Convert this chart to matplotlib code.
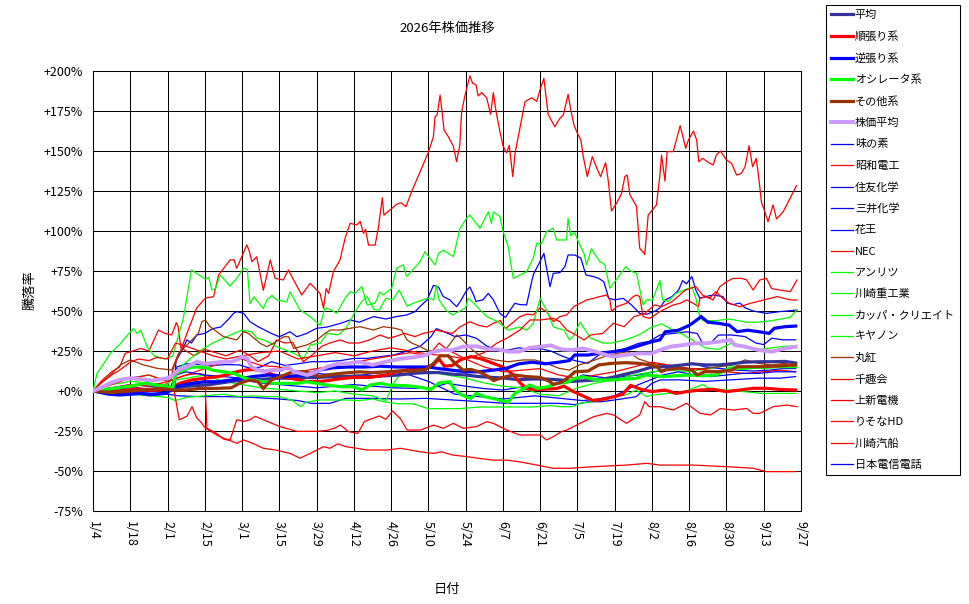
import matplotlib
matplotlib.use('Agg')
import matplotlib.pyplot as plt

plt.rcParams['font.family'] = ['Noto Sans CJK JP', 'DejaVu Sans']

# x axis: days since 1/4
tick_days = list(range(0, 267, 14))
tick_labels = ['1/4', '1/18', '2/1', '2/15', '3/1', '3/15', '3/29', '4/12', '4/26', '5/10',
               '5/24', '6/7', '6/21', '7/5', '7/19', '8/2', '8/16', '8/30', '9/13', '9/27']
y_ticks = [-75, -50, -25, 0, 25, 50, 75, 100, 125, 150, 175, 200]

# ---- group lines (thick) ----
avg_days = [0, 5, 10, 15, 20, 25, 28, 32, 36, 40, 44, 48, 52, 56, 60, 65, 70, 75, 80, 85,
            90, 95, 100, 105, 110, 115, 120, 125, 130, 135, 140, 145, 150, 155, 160, 165, 170, 175, 180, 185,
            190, 195, 200, 205, 210, 215, 220, 225, 230, 235, 240, 245, 250, 255, 260, 264]
avg_vals = [0, -0.5, 0, 0.5, 0.5, 0.5, 1, 2, 3, 3.5, 4, 5, 6, 6.7, 7, 7.5, 8, 8, 8.5, 8.5,
            9, 9, 9.5, 9, 9.5, 10, 11, 11.5, 11.5, 10.5, 10, 9, 8.5, 8, 7, 7.5, 7.5, 7, 6, 6.5,
            7, 8.5, 10.5, 12.5, 15, 15.2, 16, 17, 16.3, 16.3, 17, 18, 18.3, 18.3, 18.5, 17.5]

trend_days = [0, 5, 10, 15, 20, 25, 28, 30, 33, 37, 42, 47, 50, 54, 57, 60, 64, 68, 74, 80,
              86, 92, 98, 104, 110, 114, 119, 124, 128, 130, 132, 135, 138, 142, 146, 150, 154, 158, 160.5, 163,
              166, 170, 174, 177, 180, 184, 188, 192, 196, 199, 202, 206, 210, 215, 219, 223, 228, 233, 238, 243,
              248, 253, 258, 264]
trend_vals = [0, -1, 0, 1, 0.6, 0.6, 2, 2.7, 5, 6.9, 8, 9, 10, 12, 13, 13.5, 12.5, 10, 8, 6,
              6, 7.5, 8.5, 8.5, 10, 12, 13.5, 14, 16.5, 20, 15.5, 16, 19.5, 21.5, 20, 17.5, 15, 10, 5, 1.5,
              0.8, 1.2, 1.5, 3, 0, -3, -6, -5, -3.5, -2, 3.5, 1, -0.4, 0.6, -1.5, -0.4, 0.6, 1, -0.4, 0.6,
              1.7, 1.7, 1, 0.6]

contra_days = [0, 3, 6, 10, 14, 18, 22, 26, 28, 31, 34, 38, 42, 47, 52, 56, 60, 66, 72, 80,
               85, 90, 96, 102, 108, 114, 120, 126, 130, 135, 140, 145, 150, 155, 160, 165, 170, 175, 179, 181,
               186, 190, 195, 200, 206, 210, 213, 215, 220, 224, 226, 228.5, 231, 235, 239, 242, 246, 250, 254, 256,
               260, 264]
contra_vals = [0, -1, -2, -2.5, -2, -1.5, -2, -1.5, -1, 2.7, 3.7, 5, 5.8, 5.8, 6.9, 7.9, 9, 10, 9, 10,
               13, 14.5, 15, 15, 15.5, 15, 15, 15, 14, 13, 12, 12, 13, 14, 17, 18, 17, 18, 19, 22.5,
               22.5, 23.5, 24.5, 25.6, 28.8, 30.8, 32, 37, 38, 41, 43.3, 46.5, 43, 42.3, 41.2, 37.1, 38, 37.1, 36, 39.2,
               40.2, 40.6]

osc_days = [0, 7, 14, 20, 22, 27, 30, 31, 34, 37, 42, 45, 49, 53, 57, 60, 64, 68, 72, 77,
            80, 84, 88, 93, 98, 101, 104, 108, 111, 115, 119, 124, 127, 130, 134, 136, 138.5, 142, 144, 147,
            151, 156, 158.5, 161, 164, 167, 171, 174, 178, 181, 184, 189, 195, 200, 204, 208, 214, 219, 224, 229,
            234, 239, 245, 250, 255, 260, 264]
osc_vals = [0, 1.5, 3, 5, 4, 3, 2, 11, 13, 15, 14.8, 13, 12, 11, 8, 6.9, 5.8, 4.8, 4.8, 4.8,
            5.8, 4.8, 3.7, 2.7, 2.7, 0.6, 3.7, 4.8, 3.7, 3.5, 3.2, 2, 1, 5, 5.8, 0.6, -2.5, -4.6, -1.5, -3.5,
            -5, -7, -1.5, 0.6, 3.7, 1.7, 2.7, 4.8, 5.3, 7.9, 8.9, 6.9, 6.9, 7.5, 7.9, 10, 9, 9.5, 10, 9.5,
            10, 14.2, 14.2, 15, 15.2, 15.2, 15.2]

other_days = [0, 7, 14, 20, 26, 30, 35, 40, 46, 52, 55, 59, 62, 64, 67, 72, 75, 80, 85, 88,
              93, 100, 105, 110, 115, 120, 125, 128, 130.5, 133.5, 136, 139, 142, 145, 148, 150.5, 154, 158, 163, 168,
              171.5, 173, 176, 179, 181, 186, 190, 195, 200, 205, 209.5, 212, 213.5, 215, 220, 225, 227, 230, 235, 240,
              242, 247, 252, 257, 264]
other_vals = [0, -1, 0, 1, 1.5, 0.6, 0.6, 1.6, 1.6, 2, 4.8, 6.9, 5.8, 1.6, 6.9, 10, 12, 12, 9, 10,
              11, 12, 11.5, 12, 12.5, 12.5, 13.5, 17.3, 22, 22, 17.3, 13.1, 13.5, 12, 9.5, 6.5, 8.5, 10, 9, 8.5,
              6, 4, 5.5, 9, 12, 12.5, 16.3, 17.3, 17.7, 17.3, 16.3, 15.2, 12.1, 13.1, 14.2, 13.1, 10, 12.1, 12.1, 13.1,
              15.2, 15.2, 15.2, 15.6, 16.3]

index_days = [0, 3, 6.5, 10, 14, 18, 22, 28, 30, 32, 36.5, 39, 42, 45, 49, 52, 54, 56, 58, 59.5,
              62, 64, 67, 71, 73, 75.5, 78, 80.5, 84, 88, 92, 96, 100, 105, 110, 115, 120, 124, 128, 131,
              135, 139, 144, 149, 152, 156, 160, 164, 168, 172, 176, 180, 184, 189, 192, 195, 200, 205, 210, 213,
              217, 222, 226, 230, 235, 239.5, 241, 245, 250, 255, 260, 264]
index_vals = [0, 2, 5, 7, 8, 7.5, 6.5, 8, 10, 13, 16, 18.3, 17, 17.5, 18.3, 18.3, 19.4, 21.4, 20.4, 15,
              13.1, 12, 13.1, 13.1, 15.2, 12.1, 11, 10, 12, 15.2, 17, 17.3, 18.3, 16.3, 18.3, 20, 21, 22, 24.5, 25.5,
              25.6, 27.7, 28, 26, 26, 24.6, 24.6, 27, 27.7, 28.5, 26, 25.6, 26.6, 24.5, 23, 21.5, 22.5, 23.5, 23.5, 25.6,
              27.7, 28.8, 29.8, 29.8, 30.8, 31.9, 28.8, 27.7, 25.6, 24.6, 26.6, 27.7]

# ---- single stocks (thin) ----
ajinomoto_days = [0, 7, 14, 21, 28, 30.5, 31.2, 33, 35.3, 37, 39, 42, 45, 48, 51, 52.8, 54, 56.6, 59, 62,
                  67, 70, 74, 76.6, 80.3, 84, 88, 93, 96.6, 100, 105.4, 110, 114, 117.8, 121, 123, 125.5, 127.9, 129.8, 131.6,
                  134, 136.6, 138, 140.4, 141.6, 143, 143.9, 146.5, 148.5, 150.4, 152.9, 155, 156.5, 158.5, 160.4, 162.9, 164.8, 165.5, 167.9, 169.4,
                  170.5, 171.7, 172.9, 175.4, 177.3, 178.5, 181, 183.3, 185.2, 188, 190, 191.9, 193.8, 196, 199.2, 202.3, 205.4, 208, 211.3, 213,
                  215, 217.5, 220, 221.5, 223, 225, 226.5, 228, 230, 233, 236.6, 238.3, 240.6, 243, 245, 248, 253, 258, 264.5]
ajinomoto_vals = [0, -1, 1, 0, 1, 2, 19, 24, 32, 30, 35, 36, 39, 40, 45, 48.5, 49.6, 48.5, 43.3, 40.2,
                  36, 33.9, 37, 33.9, 36, 39.2, 40, 42.3, 44.4, 43, 46.5, 45, 46.5, 47.5, 49.6, 53, 56.9, 66, 65, 59,
                  57, 52.7, 56, 63, 65, 60, 56, 57, 61, 57, 48.5, 46, 50, 54.8, 54, 53.8, 68.3, 73, 80.8, 86,
                  76, 65.2, 73.5, 74, 77.7, 85, 85, 83, 72.5, 71.5, 70.4, 68.3, 57.9, 57, 57.9, 53.8, 48.5, 48, 50, 52,
                  56.9, 59, 63, 69, 67, 71.5, 63, 58, 59, 60, 59, 55, 54, 55, 52, 50, 48.5, 49.6, 50.6]

showa_days = [0, 7, 14, 21, 26, 29, 30.3, 32.8, 35.3, 39, 42.2, 45.3, 47.2, 51.5, 53, 54, 57.8, 58.8, 59.7, 61.5,
              64, 66.6, 68.4, 71.5, 73.4, 78.4, 81.6, 85.3, 86.6, 87.6, 88.5, 90.3, 92.8, 94.7, 96.6, 99.1, 100.4, 101.6, 102.4, 103.5,
              106, 107.2, 108.7, 109.3, 114.1, 115.7, 117.6, 119.7, 122.9, 126, 127.9, 128.5, 129.3, 130.4, 131, 131.9, 133.5, 135.4, 136.6, 137.8,
              138.5, 139.8, 141.6, 142.6, 143.9, 144.7, 146, 147.9, 149.4, 150.4, 151.4, 152.9, 154.1, 155.4, 156.4, 157.7, 158.6, 160.4, 162.3, 164.8,
              166.7, 167.9, 169.4, 171, 173.5, 175.4, 176.7, 178.5, 179.4, 180.7, 182, 183.3, 184.2, 185.7, 187.6, 189.3, 190.7, 192.6, 193.6, 194.8,
              196.7, 198.6, 199.8, 200.7, 201.7, 204.2, 205.4, 207.3, 208.6, 211.7, 213, 213.6, 214.9, 215.7, 218, 219, 220.6, 222.7, 223.7, 225.6,
              226.8, 227.6, 229.1, 231, 233, 234.2, 235.7, 238, 239.9, 241.8, 243.6, 245, 246.5, 247.8, 249.2, 250.3, 251.1, 252.4, 253.6, 255.5,
              256.8, 259.3, 264.3]
showa_vals = [0, 2, 3, 1, 3, 6, 15, 24.6, 36, 52, 58, 59, 72.5, 81.9, 82, 76.7, 91.3, 87, 80.8, 83.9,
              63, 81.9, 70.4, 69.4, 75.6, 60, 67.3, 61, 51.7, 64, 61, 74.6, 81.9, 95.4, 104.8, 103.8, 106, 98.5, 101, 91.2,
              91.2, 101.8, 120.8, 109.9, 116.7, 117.7, 115.2, 124.6, 137, 149.2, 159, 171.5, 172.5, 185, 176.7, 163, 159, 152.9, 143.3, 153.6,
              174.6, 185, 197, 192.4, 191.4, 184.4, 186.5, 183.3, 172.9, 186.5, 175, 162, 152.9, 148.8, 153.6, 134, 148.8, 164.2, 180.8, 183.3,
              181, 188, 195.4, 172.9, 165.2, 170.4, 172.5, 185.4, 176.7, 166.3, 161, 156.9, 146.5, 134, 146.5, 139.2, 134, 142.7, 131.2, 112.5,
              117.3, 123.5, 134, 135, 122.7, 115.4, 89.2, 85.4, 110, 116.3, 135, 147.5, 131.2, 149.6, 149.6, 155.8, 165.8, 151.7, 156.9, 162.5,
              156.9, 143.3, 145.4, 143, 141.3, 147.5, 150, 144.4, 142.3, 135, 136, 140.2, 153.3, 140.2, 145.4, 130.8, 118.3, 112, 105.8, 116.3,
              107.5, 112, 128.3]

sumitomo_days = [0, 7, 14, 21, 28, 30.5, 31.5, 35, 40, 45, 50, 55, 59, 63, 67, 72, 77, 82, 87, 93,
                 98, 103, 108, 113, 118, 123, 127, 129, 132, 136, 140, 144, 148, 152, 156, 160, 164, 168, 172, 176,
                 181, 186, 190, 195, 200, 205, 209, 213, 218, 223, 227, 229, 232, 235, 240, 245, 249, 252, 255, 259, 264]
sumitomo_vals = [0, 1, 2, 1, 0.5, 1, 15, 17, 16.5, 16, 16.5, 16.3, 14.2, 15, 18.3, 16, 17, 18.3, 18.3, 19,
                 20.4, 20.4, 21.5, 22.5, 25, 28, 34, 39, 37, 34, 35, 33, 28, 25.6, 25.6, 27, 26, 26.5, 25, 22,
                 19, 17.3, 22.5, 24.6, 26.6, 29.8, 31, 35, 36, 37, 36, 30, 30, 35, 35, 34, 30, 29, 33, 32, 32]

mitsui_days = [0, 10, 20, 28, 32, 40, 50, 60, 70, 77, 82, 89, 95, 105, 115, 125, 135, 145, 155, 165,
               175, 181, 186, 191, 196, 200, 204, 207, 210, 213, 220, 230, 240, 250, 258, 264]
mitsui_vals = [0, -1, -2, -2, -3, -3.5, -3.5, -4, -5, -6, -7.7, -7.7, -4.6, -4.6, -5, -4.6, -5.6, -6.6, -7.7, -7.7,
               -7.7, -8.5, -6.7, -6.7, -5.6, -4.6, -3.6, 0.6, 4.8, 6.9, 7, 6, 7, 8, 8, 9]

kao_days = [0, 7, 14, 21, 28, 35, 42, 49, 56, 63, 70, 77, 84, 91, 98, 105, 113, 120, 127, 133,
            140, 147, 154, 161, 168, 175, 180, 184, 189, 194, 199, 205, 211, 216, 221, 226, 230, 236, 242, 248,
            254, 259, 264]
kao_vals = [0, 2, 4, 3, 2, 5, 6, 5, 7, 5, 4, 3, 2, 3, 4, 3, 2, 1.7, 1.7, 4.8,
            3, 1.5, 0.6, 2.5, 1.7, 4.8, 6.9, 10, 9, 7.9, 9, 10, 12, 14, 16, 17, 15, 14, 13, 12.5,
            13, 14, 14]

nec_days = [0, 3, 7, 10, 12.1, 15, 17.8, 21, 24.6, 27, 29.6, 31.3, 32, 33, 35, 38, 42, 46, 50, 55.3,
            59, 62, 66, 69, 72, 75, 79, 82, 86, 89, 92.8, 96, 100, 104, 107.8, 111, 113.5, 117, 121, 124,
            127, 129, 132, 135, 137.8, 141.6, 145, 148, 150, 153, 155, 157.9, 160.4, 163, 165.4, 168, 170.4, 173, 175.4, 178,
            180.6, 183, 185.4, 188, 190.4, 193, 194.2, 194.8, 196.7, 200.4, 203, 204.2, 205.4, 206.7, 209.2, 213, 215.5, 218, 220.6, 223,
            225.6, 227.5, 228, 230.6, 233, 235.5, 238, 240.5, 243.6, 245.6, 248, 250.5, 253, 255, 258, 262, 264.5]
nec_vals = [0, 6, 12, 15, 23.5, 25, 26.6, 25, 38.1, 36, 35, 42.7, 40, 27, 25, 22, 26, 24, 22, 25.6,
            22, 18.3, 22, 31.9, 30, 30.5, 18.3, 22, 28, 30, 31.9, 30, 30, 32, 35, 33, 34, 36, 34, 36,
            37, 38, 37, 36, 40, 43.3, 41, 40, 42, 44, 39, 43, 46.5, 48, 47.5, 52, 49.6, 43.3, 46.5, 47.5,
            52.7, 54.8, 56.9, 57.9, 59, 60, 56.9, 49.6, 52.7, 54.8, 59, 60, 59, 46.5, 45.4, 49.6, 51.7, 53.8, 54.8, 56.9,
            54.8, 52.7, 57.9, 59, 56.9, 65.2, 68.3, 70.4, 70.4, 69.4, 63.1, 69.4, 70.4, 64, 63.1, 62.1, 69.4]

anritsu_days = [0, 1.5, 4, 6.5, 10, 13, 15.2, 16.5, 18, 20.3, 23, 27, 30, 32, 34, 37, 42, 43.5, 44.7, 46,
                47.8, 51.5, 54, 56.5, 58, 59, 60.5, 64, 65.3, 67.2, 69, 72.8, 74, 77.8, 81.6, 85.3, 87.2, 89, 91.6, 94.7,
                96.6, 98.4, 101, 102.2, 103, 106, 107.8, 109, 112.2, 114.1, 116.6, 117.8, 122.9, 124.7, 128.5, 129.8, 131.6, 135.4, 137.9, 140.4,
                141.6, 145.4, 148.5, 149.7, 150.4, 152.9, 154.1, 156, 157.9, 162.9, 165.4, 166.7, 168.5, 170.4, 172.9, 174.2, 177.9, 178.5, 179.5, 181,
                182.6, 184.5, 185.4, 187.3, 190.4, 192.3, 194.2, 196, 200.2, 202, 204.2, 206.7, 208, 210.2, 213, 214, 216, 219, 222, 225,
                226.5, 227.7, 229, 234.2, 239, 245.5, 250, 255, 261.8, 264.5]
anritsu_vals = [0, 11, 17, 23.5, 29, 35, 39, 36, 38, 27.7, 22, 20, 22, 34, 46, 75.6, 70, 71, 63, 64,
                72.5, 65.6, 70.4, 76.7, 76, 54.6, 58.8, 51.5, 56.7, 59.8, 57, 55.6, 62, 50.6, 46.5, 41, 52, 51, 48.6, 58,
                62, 61, 65.2, 58, 53.8, 54.8, 62, 60, 64.2, 76.7, 78.8, 71.5, 80.8, 87, 78.8, 86, 88, 84, 101.7, 108,
                110, 101.7, 112, 104.8, 112, 109, 99.6, 90.2, 70.4, 74.6, 83, 92.3, 92, 99.6, 101.7, 94.4, 94.4, 108, 97, 99,
                92.3, 86, 78.8, 89, 80.8, 79, 64.2, 68.3, 77.7, 75, 73.5, 53.8, 57, 56.9, 69, 57, 56, 61, 63, 65,
                58, 48, 44, 44, 45, 43, 43, 44, 46, 50.6]

khi_days = [0, 7, 14, 21, 28, 31, 35, 40, 45, 49, 53, 56, 59.7, 61.6, 64, 66.6, 69, 72.3, 75.4, 79.2,
            81.7, 85.4, 88, 92, 95, 98.5, 101, 103, 105.5, 107.6, 110, 112.6, 115, 118, 120.6, 125.6, 128, 129, 130, 132.6,
            135, 140, 141, 143, 145.5, 147.9, 152, 156, 160, 163, 165.4, 168, 170.4, 173, 177, 179, 180.4, 183, 187, 191.5,
            195, 200, 205, 210, 213.6, 218, 222, 227, 230, 235, 240, 245, 250, 255, 260, 264]
khi_vals = [0, 4, 6, 5, 4, 12, 18, 25, 30, 33, 36, 38, 37, 33, 32, 30, 27.7, 25.6, 23.5, 20.4,
            28.8, 30, 36, 35, 39, 49.6, 56, 59, 51, 50.6, 58, 57, 63, 53, 55, 58, 57, 66, 57, 50.6,
            47.5, 52, 57.9, 55, 50.6, 46.5, 43.3, 38, 40, 38, 42.3, 57.9, 50.6, 40, 38, 32, 34, 43, 33, 30,
            30, 32, 35, 40, 42, 38, 35, 30, 27, 26, 30, 28, 26, 27, 28, 28]

kappa_days = [0, 7, 14, 21, 28, 31, 35, 42, 49, 55, 60, 65, 70, 75, 78, 80, 85, 90, 95, 100,
              105, 110, 115, 120, 126, 132, 138, 145, 152, 158, 165, 172, 175, 180, 183, 188, 196, 200, 204, 208,
              210, 216, 222, 229, 231, 238, 245, 251, 256, 264]
kappa_vals = [0, -1, -2, -3, -4, -6, -4, -3, -2, -3.5, -3, -3.5, -3.5, -6, -9.8, -7, -5.6, -5.6, -5.6, -6,
              -5, -7, -8, -8, -11, -11, -11, -10, -10, -10, -10, -9, -9.8, -9.8, -7.7, -6.7, -3.5, -2.5, 0.6, -3.5,
              -2.5, -1.5, -0.5, 4, 2, 0.6, -0.5, -1.5, -1.5, -1.5]

canon_days = [0, 7, 14, 21, 28, 35, 42, 49, 56, 63, 70, 77, 84, 91, 98, 105, 110, 113, 116, 120,
              126, 133, 140, 147, 154, 161, 168, 175, 182, 189, 196, 203, 210, 217, 224, 231, 238, 245, 252, 258, 264]
canon_vals = [0, 5, 8, 10, 6, 8, 10, 6, 4, 2, 1, 0, -1, 0, -2, -3, -6, 5, 12, 14,
              12, 10, 8, 5, 3, 2, -2, -3, 2, 5, 7, 10, 12, 13, 12, 14, 16, 15, 14, 15, 16]

marubeni_days = [0, 1.5, 6.5, 10.3, 14, 19, 24, 29.6, 32.1, 36.5, 39.6, 40.9, 42.2, 44, 49, 54, 56.6, 58.4, 62.8, 65.3,
                 67.8, 71.6, 73.5, 75.4, 77.9, 80.4, 84.1, 87.2, 89.1, 92.9, 96.6, 100.4, 105.4, 109.1, 113.5, 116, 118, 120, 123, 126,
                 132.4, 136.6, 138.3, 142.6, 146, 151, 156, 161.6, 166, 170.4, 175, 179, 182.7, 188.6, 193, 197, 201, 205, 210, 215,
                 220, 225, 230, 235, 240, 245, 250, 255, 260, 264]
marubeni_vals = [0, 2.7, 10, 16.3, 19.4, 16.3, 14.2, 13.1, 23.5, 30.8, 36, 43.3, 44.4, 40.2, 34, 31.9, 37.1, 36, 29.8, 27.7,
                 29.8, 33.9, 33.9, 26.6, 27.7, 28.8, 31.9, 36, 38.1, 38.1, 39.2, 40.2, 38.1, 40.2, 39.2, 38, 31.9, 29.8, 27.7, 25,
                 25.6, 35, 32.9, 25.6, 21.4, 19.4, 18.3, 19.4, 19.4, 17.3, 14.2, 13.1, 16.3, 19.4, 22, 23.5, 24.6, 20, 17.3, 16,
                 15, 14, 14, 15, 16.3, 19.4, 17.3, 16.3, 17.3, 15]

senshukai_days = [0, 7, 14, 21, 28, 35, 42, 49, 56, 63, 70, 77, 84, 91, 98, 105, 112, 119, 126, 130,
                  133, 140, 147, 154, 161, 168, 175, 182, 189, 196, 203, 210, 217, 224, 231, 238, 245, 252, 258, 264]
senshukai_vals = [0, 4, 8, 10, 6, 10, 14, 18, 20, 16, 15, 12, 14, 16, 18, 20, 22, 24, 22, 30,
                  26, 20, 15, 12, 13, 14, 10, 8, 10, 12, 15, 18, 16, 14, 13, 12, 11, 12, 13, 12]

joshin_days = [0, 3, 7, 10, 14, 17, 21, 24, 28, 31, 35, 40, 45, 50, 56, 63, 70, 77, 84, 91,
               98, 105, 112, 119, 126, 133, 140, 147, 151.6, 155.4, 160.4, 164.2, 168, 173, 175.4, 178, 180.4, 184.5, 187, 191.5,
               195.5, 199.5, 203.3, 207.3, 211, 213.6, 217.5, 222.6, 226.5, 229, 231.6, 234, 236.6, 239, 243, 247, 252, 257, 262, 264.5]
joshin_vals = [0, 5, 10, 13, 18, 20, 19, 21, 20, 30, 28, 25, 22, 20, 22, 24, 25, 20, 22, 24,
               22, 25, 27, 25, 23, 22, 20, 24, 29.8, 32.9, 38.1, 44.4, 44.4, 45.4, 43.3, 38.1, 36, 31.9, 35, 36,
               42.3, 40.2, 46.5, 48.5, 53.8, 52.7, 55.8, 63.1, 65.2, 60, 57.9, 62.1, 57.9, 54.8, 52.7, 54.8, 56.9, 59, 56.9, 56.9]

resona_days = [0, 7, 14, 21, 28, 30.5, 32.4, 35.3, 37.2, 39, 40.3, 42.2, 46.5, 49, 51.5, 54, 56.5, 59, 60.9, 64,
               67.2, 70.3, 76.6, 84, 88, 90.6, 93, 96, 99.5, 102, 107.6, 110, 112.6, 115.7, 118, 123, 128, 131.6, 135.4, 139,
               144, 147.9, 150.4, 155.4, 160.4, 168, 170.4, 173, 176, 178, 183, 188, 193, 195.6, 200.4, 205.4, 207.3, 209, 213, 218,
               223, 228, 232, 235.6, 240.6, 245.6, 248, 250.5, 255.5, 260.5, 264.5]
resona_vals = [0, 1, -1, 0, 1, 0, -18, -15.8, -9.8, -16.9, -19, -23.1, -27.5, -29.6, -30.6, -18, -19, -18, -15.8, -18,
               -20.2, -22.3, -25.2, -25.2, -24.6, -23.3, -21.3, -25.4, -26.5, -19, -15.6, -17.7, -12.5, -17.7, -24.4, -24.4, -21.3, -23.3, -20.2, -23.3,
               -22.3, -19.2, -20.2, -24.4, -27.5, -27.5, -30.6, -28.5, -25.4, -24.4, -20.2, -16.1, -14, -15, -20.2, -15, -6.7, -9.8, -9.8, -11.9,
               -7.7, -13.9, -15, -11, -11.9, -10.9, -14, -14, -9.8, -8.8, -9.8]

kline_days = [0, 7, 14, 21, 28, 35, 40, 42, 42.8, 46, 49, 51.5, 54, 56.6, 60, 64, 69, 74, 77.8, 81.6,
              86.6, 89, 92, 95, 99, 103, 110.5, 115.5, 123, 128, 131, 135, 140.4, 145.4, 150.4, 155.4, 160.4, 166.7, 173, 179,
              188, 200.4, 208, 213, 225.6, 238, 248, 253, 264]
kline_vals = [0, 2, 4, 3, 6, 10, 11, 10, -23.3, -26, -30, -31, -32.7, -30.6, -32.7, -35.8, -37, -39, -42, -39,
              -34.8, -35.8, -33, -34.8, -35.8, -36.9, -36.9, -35.8, -38, -39, -38, -40, -41, -42.2, -43.2, -43.2, -44.3, -46.3, -48.3, -48.3,
              -47.3, -46.3, -45.2, -46.3, -46.3, -47.3, -48.3, -50.4, -50.4]

ntt_days = [0, 7, 14, 21, 28, 31, 35, 42, 49, 56, 63, 70, 77, 84, 91, 98, 105, 112, 119, 126,
            131, 136, 142, 148, 154, 160, 166, 172, 178, 184, 190, 196, 202, 208, 214, 220, 226, 232, 238, 244,
            250, 256, 264]
ntt_vals = [0, -2, -1, -3, -2, 10, 12, 10, 9, 8, 7, 8, 10, 11, 10, 9, 11, 12, 10, 6,
            2, -2, -3, -4, -5, -4, -3, -4, -5, -6, -5, -3, 2, 6, 10, 12, 10, 9, 10, 11,
            11, 12, 12]

NAVY, RED, BLUE, LIME, BROWN, LAVENDER = '#333399', '#ff0000', '#0000ff', '#00ff00', '#993300', '#cc99ff'

thick = [
    ('平均', avg_days, avg_vals, NAVY, 2.3),
    ('順張り系', trend_days, trend_vals, RED, 2.3),
    ('逆張り系', contra_days, contra_vals, BLUE, 2.3),
    ('オシレータ系', osc_days, osc_vals, LIME, 2.3),
    ('その他系', other_days, other_vals, BROWN, 2.3),
    ('株価平均', index_days, index_vals, LAVENDER, 2.8),
]
thin = [
    ('味の素', ajinomoto_days, ajinomoto_vals, BLUE),
    ('昭和電工', showa_days, showa_vals, RED),
    ('住友化学', sumitomo_days, sumitomo_vals, BLUE),
    ('三井化学', mitsui_days, mitsui_vals, BLUE),
    ('花王', kao_days, kao_vals, BLUE),
    ('NEC', nec_days, nec_vals, RED),
    ('アンリツ', anritsu_days, anritsu_vals, LIME),
    ('川崎重工業', khi_days, khi_vals, LIME),
    ('カッパ・クリエイト', kappa_days, kappa_vals, LIME),
    ('キヤノン', canon_days, canon_vals, LIME),
    ('丸紅', marubeni_days, marubeni_vals, BROWN),
    ('千趣会', senshukai_days, senshukai_vals, RED),
    ('上新電機', joshin_days, joshin_vals, RED),
    ('りそなHD', resona_days, resona_vals, RED),
    ('川崎汽船', kline_days, kline_vals, RED),
    ('日本電信電話', ntt_days, ntt_vals, BLUE),
]

W, H = 970, 604
fig = plt.figure(figsize=(W / 100, H / 100), dpi=100)
ax = fig.add_axes([93 / W, 1 - 511 / H, (801 - 93) / W, (511 - 71) / H])

handles = []
for name, d, v, c, lw in thick:
    h, = ax.plot(d, v, color=c, linewidth=lw, label=name, zorder=4, solid_joinstyle='miter')
    handles.append(h)
for name, d, v, c in thin:
    h, = ax.plot(d, v, color=c, linewidth=0.9, label=name, zorder=3)
    handles.append(h)

ax.set_xlim(0, 266)
ax.set_ylim(-75, 200)
ax.set_xticks(tick_days)
ax.set_xticklabels(tick_labels, rotation=-90, fontsize=9)
ax.set_yticks(y_ticks)
ax.set_yticklabels([('+%d%%' % t) if t >= 0 else ('%d%%' % t) for t in y_ticks], fontsize=9)
ax.tick_params(length=0, pad=7)
ax.grid(True, color='black', linewidth=0.55, antialiased=False)
ax.set_axisbelow(True)
for s in ax.spines.values():
    s.set_color('black')
    s.set_linewidth(0.75)

fig.text(447 / W, 1 - 28 / H, '2026年株価推移', ha='center', va='center', fontsize=9.5)
fig.text(30 / W, 1 - 290 / H, '騰落率', ha='center', va='center', rotation=90, fontsize=9.5)
fig.text(447 / W, 1 - 589 / H, '日付', ha='center', va='center', fontsize=9.5)

leg = fig.legend(handles=handles, loc='upper left', bbox_to_anchor=(826 / W, 1 - 5 / H),
                 bbox_transform=fig.transFigure, fontsize=8, frameon=True, fancybox=False,
                 edgecolor='black', framealpha=1, borderaxespad=0, borderpad=0.45,
                 handlelength=2.0, handletextpad=0.15, labelspacing=1.0)
leg.get_frame().set_linewidth(0.75)

fig.savefig('out.png', dpi=100)
print('saved out.png')
